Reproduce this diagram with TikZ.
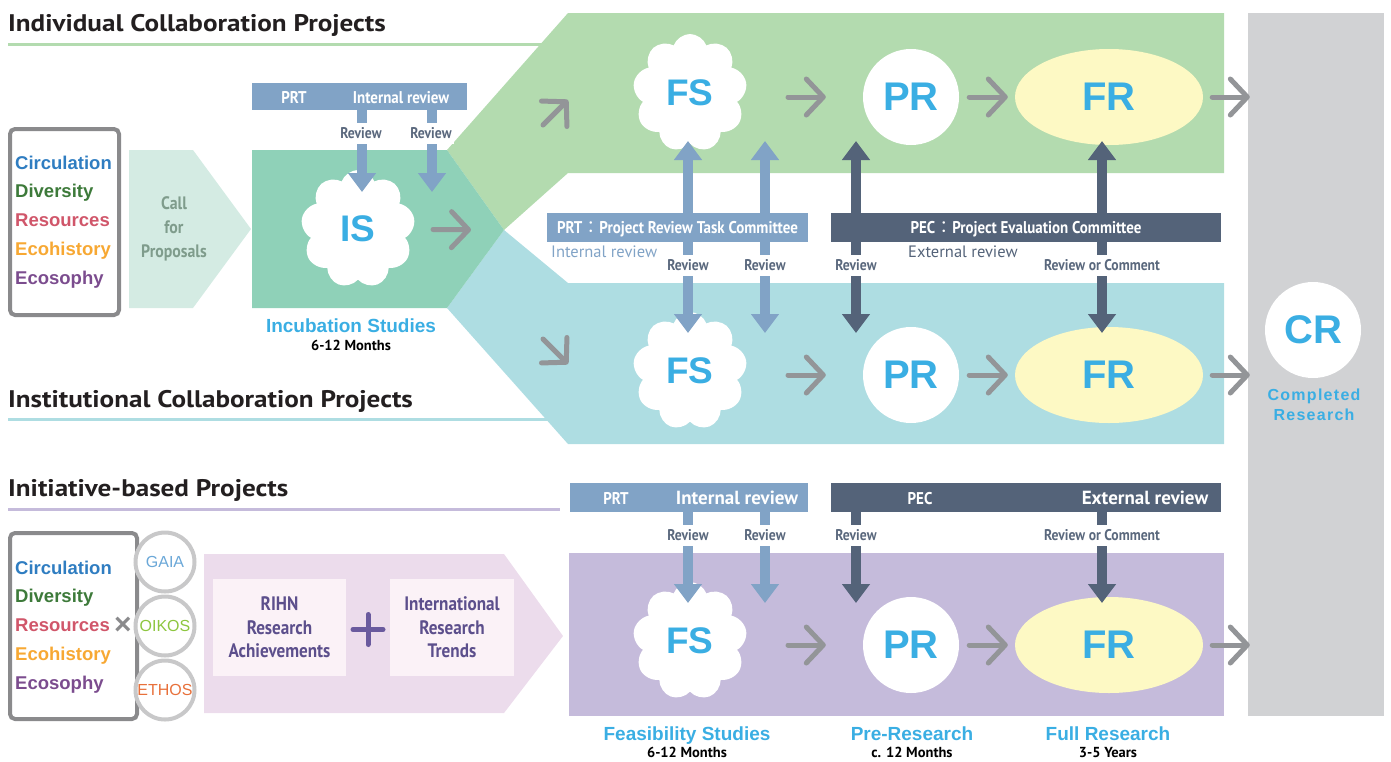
\documentclass[tikz,border=0pt]{standalone}
\usepackage{fontspec}
\setmainfont{PT Sans}
\newfontfamily\arialfont{Liberation Sans}
\newfontfamily\arialwide[LetterSpace=8]{Liberation Sans}
\newfontfamily\condfont[FakeStretch=0.88]{PT Sans Bold}
\newfontfamily\headfont[FakeStretch=1.13]{PT Sans Bold}
\newfontfamily\cjkfont{Noto Sans CJK JP}
\usetikzlibrary{arrows.meta, shapes.symbols, shapes.geometric, positioning}
\definecolor{color1}{RGB}{179,219,175}
\definecolor{color2}{RGB}{143,209,184}
\definecolor{color3}{RGB}{174,221,226}
\definecolor{color4}{RGB}{197,187,219}
\definecolor{color5}{RGB}{212,235,227}
\definecolor{color6}{RGB}{236,220,236}
\definecolor{color7}{RGB}{251,242,247}
\definecolor{color8}{RGB}{209,210,212}
\definecolor{color9}{RGB}{147,149,152}
\definecolor{color10}{RGB}{129,163,198}
\definecolor{color11}{RGB}{84,99,121}
\definecolor{color12}{RGB}{58,174,227}
\definecolor{color13}{RGB}{253,249,196}
\definecolor{color14}{RGB}{138,138,140}
\definecolor{color15}{RGB}{200,200,201}
\definecolor{color16}{RGB}{92,79,140}
\definecolor{color17}{RGB}{127,156,140}
\definecolor{color18}{RGB}{90,104,125}
\definecolor{color19}{RGB}{35,31,32}
\definecolor{color20}{RGB}{47,125,193}
\definecolor{color21}{RGB}{61,122,58}
\definecolor{color22}{RGB}{208,86,106}
\definecolor{color23}{RGB}{247,168,51}
\definecolor{color24}{RGB}{123,76,142}
\definecolor{color25}{RGB}{107,168,216}
\definecolor{color26}{RGB}{141,198,63}
\definecolor{color27}{RGB}{232,112,58}
\definecolor{color28}{RGB}{106,90,158}
\newcommand{\themewords}{\textcolor{color20}{Circulation}\\\textcolor{color21}{Diversity}\\\textcolor{color22}{Resources}\\\textcolor{color23}{Ecohistory}\\\textcolor{color24}{Ecosophy}}

\begin{document}
\begin{tikzpicture}[x=1pt, y=-1pt,
    heading/.style={anchor=base west, inner sep=0pt, text=color19, font=\headfont\fontsize{24}{24}\selectfont},
    themebox/.style={draw=color14, line width=4pt, rounded corners=5pt, inner sep=0pt},
    themes/.style={anchor=west, align=left, inner sep=0pt, font=\arialfont\bfseries\fontsize{18.5}{28.8}\selectfont},
    orb/.style={circle, draw=color15, line width=4pt, fill=white, minimum size=59pt, inner sep=0pt, font=\arialfont\fontsize{16}{16}\selectfont},
    puff/.style={cloud, cloud puffs=9, cloud puff arc=140, cloud ignores aspect, fill=white, minimum width=114pt, minimum height=118pt, inner sep=0pt, text=color12, font=\arialfont\bfseries\fontsize{37}{37}\selectfont},
    stage/.style={circle, fill=white, minimum size=96pt, inner sep=0pt, text=color12, font=\arialfont\bfseries\fontsize{40}{40}\selectfont},
    full/.style={stage, ellipse, fill=color13, minimum width=188pt, minimum height=96pt},
    garrow/.style={draw=color9, line width=5pt, line cap=round, -{Straight Barb[length=17pt, width=36pt, round]}},
    lbarrow/.style={draw=color10, line width=9.5pt, -{Triangle[width=27pt, length=19pt]}},
    dbarrow/.style={lbarrow, draw=color11},
    lbar/.style={fill=color10, inner sep=0pt, minimum height=29pt, text=white, text height=12pt, text depth=0pt, font=\condfont\fontsize{17}{17}\selectfont},
    dbar/.style={lbar, fill=color11},
    barword/.style={inner sep=0pt, text=white, text height=12pt, text depth=0pt, font=\condfont\fontsize{17}{17}\selectfont},
    revlabel/.style={fill=white, inner xsep=2pt, inner ysep=0pt, minimum height=21pt, text=color18, text height=11pt, text depth=0pt, font=\condfont\fontsize{15.5}{15.5}\selectfont},
    subnote/.style={anchor=west, inner sep=0pt, text height=11.5pt, text depth=0pt, font=\fontsize{16.5}{16.5}\selectfont},
    stagename/.style={inner sep=0pt, text=color12, text height=13.5pt, text depth=0pt, font=\arialfont\bfseries\fontsize{19}{19}\selectfont},
    duration/.style={inner sep=0pt, text=black, text height=10pt, text depth=0pt, font=\bfseries\fontsize{14.5}{14.5}\selectfont},
    pinkbox/.style={fill=color7, inner sep=0pt, minimum height=97pt, align=center, text=color16, font=\condfont\fontsize{19.5}{23.5}\selectfont}
  ]
  \useasboundingbox (0,0) rectangle (1391,761);

  % headings and their rules
  \node[heading] (indiv) at (8,31) {Individual Collaboration Projects};
  \node[heading] (instit) at (8,407) {Institutional Collaboration Projects};
  \node[heading] (initia) at (8,496) {Initiative-based Projects};
  \draw[color1, line width=3pt] (8,44) -- (545,44);
  \draw[color3, line width=3pt] (8,419) -- (550,419);
  \draw[color4, line width=3pt] (8,509) -- (560,509);

  % bands
  \coordinate (split) at (504,230);
  \fill[color1] (447,150) -- (568,13) -- (1224,13) -- (1224,173) -- (568,173) -- (split) -- cycle;
  \fill[color3] (447,308) -- (split) -- (568,283) -- (1224,283) -- (1224,444) -- (568,444) -- cycle;
  \fill[color2] (252,150) -- (447,150) -- (split) -- (447,308) -- (252,308) -- cycle;
  \fill[color5] (129,150) -- (193,150) -- (251,229) -- (193,308) -- (129,308) -- cycle;
  \fill[color4] (569,553) rectangle (1224,716);
  \fill[color6] (204,554) -- (504,554) -- (563,636) -- (504,713) -- (204,713) -- cycle;
  \node[fill=color8, minimum width=136pt, minimum height=703pt, inner sep=0pt] (crcol) at (1316,364.5) {};

  % left side
  \node[themebox, minimum width=109pt, minimum height=186pt] (box1) at (64.5,222) {};
  \node[themes] (list1) at (15,222) {\themewords};
  \node[text=color17, align=center, inner sep=0pt, font=\condfont\fontsize{18}{24}\selectfont] (call) at (174,229) {Call\\for\\Proposals};
  \node[themebox, minimum width=127pt, minimum height=186pt] (box2) at (73.5,626) {};
  \node[themes] (list2) at (15,627) {\themewords};
  \node[inner sep=0pt, text=color14, font=\arialfont\bfseries\fontsize{30}{30}\selectfont] (times) at (123,626) {×};
  \node[orb, text=color25] (gaia) at (165,562) {GAIA};
  \node[orb, text=color26] (oikos) at (165,626) {OIKOS};
  \node[orb, text=color27] (ethos) at (165,690) {ETHOS};
  \node[pinkbox, minimum width=133pt] (rihn) at (279.5,627.5) {RIHN\\Research\\Achievements};
  \node[pinkbox, minimum width=124pt] (trends) at (452,627.5) {International\\Research\\Trends};
  \draw[color28, line width=5pt, line cap=round] (353,629.5) -- (383,629.5) (368,614.5) -- (368,644.5);

  % incubation
  \node[puff] (is) at (358,229) {IS};
  \node[stagename] (isname) at (351,326) {Incubation Studies};
  \node[duration] (isdur) at (351,345) {6-12 Months};
  \draw[garrow, shorten <=75pt, shorten >=33pt] (is.center) -- (split);
  \coordinate (upS) at (543,125);
  \coordinate (upE) at (568,100);
  \coordinate (dnS) at (543,339);
  \coordinate (dnE) at (568,364);
  \draw[garrow] (upS) -- (upE);
  \draw[garrow] (dnS) -- (dnE);

  % review bars
  \node[lbar, minimum width=215pt, minimum height=27pt] (prt0) at (359.5,96.5) {};
  \node[barword] (prt0a) at (294,97) {PRT};
  \node[barword] (prt0b) at (401,97) {Internal review};
  \node[lbar, minimum width=261pt] (prt1) at (677.5,227.5) {PRT{\cjkfont ：}Project Review Task Committee};
  \node[dbar, minimum width=390pt] (pec1) at (1026,227.5) {PEC{\cjkfont ：}Project Evaluation Committee};
  \node[subnote, text=color10] (intrev) at (551,252) {Internal review};
  \node[subnote, text=color11] (extrev) at (908,252) {External review};
  \node[lbar, minimum width=238pt] (prt2) at (689,497.5) {};
  \node[barword] (prt2a) at (616,498) {PRT};
  \node[barword, font=\bfseries\fontsize{19}{19}\selectfont] (prt2b) at (737,498) {Internal review};
  \node[dbar, minimum width=390pt] (pec2) at (1026,497.5) {};
  \node[barword] (pec2a) at (920,498) {PEC};
  \node[barword, font=\bfseries\fontsize{19}{19}\selectfont] (pec2b) at (1145,498) {External review};

  % stages
  \foreach \row/\y in {A/97, B/375, C/645} {
    \node[puff] (fs\row) at (690,\y-4) {FS};
    \node[stage] (pr\row) at (911,\y) {PR};
    \node[full] (fr\row) at (1109,\y) {FR};
    \draw[garrow, shorten <=98pt, shorten >=37pt] (fs\row |- pr\row) -- (pr\row.west);
    \draw[garrow, shorten <=10pt, shorten >=7pt] (pr\row) -- (fr\row);
    \draw[garrow, shorten <=9pt, shorten >=-2pt] (fr\row) -- (fr\row -| crcol.west);
  }
  \node[stagename] (fsname) at (687,734) {Feasibility Studies};
  \node[duration] (fsdur) at (687,752) {6-12 Months};
  \node[stagename] (prname) at (912,734) {Pre-Research};
  \node[duration] (prdur) at (912,752) {c. 12 Months};
  \node[stagename] (frname) at (1108,734) {Full Research};
  \node[duration] (frdur) at (1108,752) {3-5 Years};
  \node[stage] (cr) at (1313,330) {CR};
  \node[align=center, inner sep=0pt, text=color12, font=\arialwide\bfseries\fontsize{16}{20}\selectfont] (crname) at (1314,405) {Completed\\Research};

  % review arrows
  \foreach \i/\x in {1/362, 2/432} {
    \coordinate (ist\i) at (\x,192);
    \draw[lbarrow] (prt0.south -| ist\i) -- (ist\i);
    \node[revlabel] (rvt\i) at (\x-1,133) {Review};
  }
  \foreach \i/\x/\c/\b/\t in {1/688/lbarrow/prt/Review, 2/765/lbarrow/prt/Review, 3/856/dbarrow/pec/Review, 4/1102/dbarrow/pec/Review or Comment} {
    \coordinate (up\i) at (\x,141);
    \coordinate (dn\i) at (\x,333);
    \coordinate (lo\i) at (\x,603);
    \draw[\c] (\b1.north -| up\i) -- (up\i);
    \draw[\c] (\b1.south -| dn\i) -- (dn\i);
    \draw[\c] (\b2.south -| lo\i) -- (lo\i);
    \node[revlabel] (rvm\i) at (\x,265) {\t};
    \node[revlabel] (rvb\i) at (\x,535) {\t};
  }
\end{tikzpicture}
\end{document}
